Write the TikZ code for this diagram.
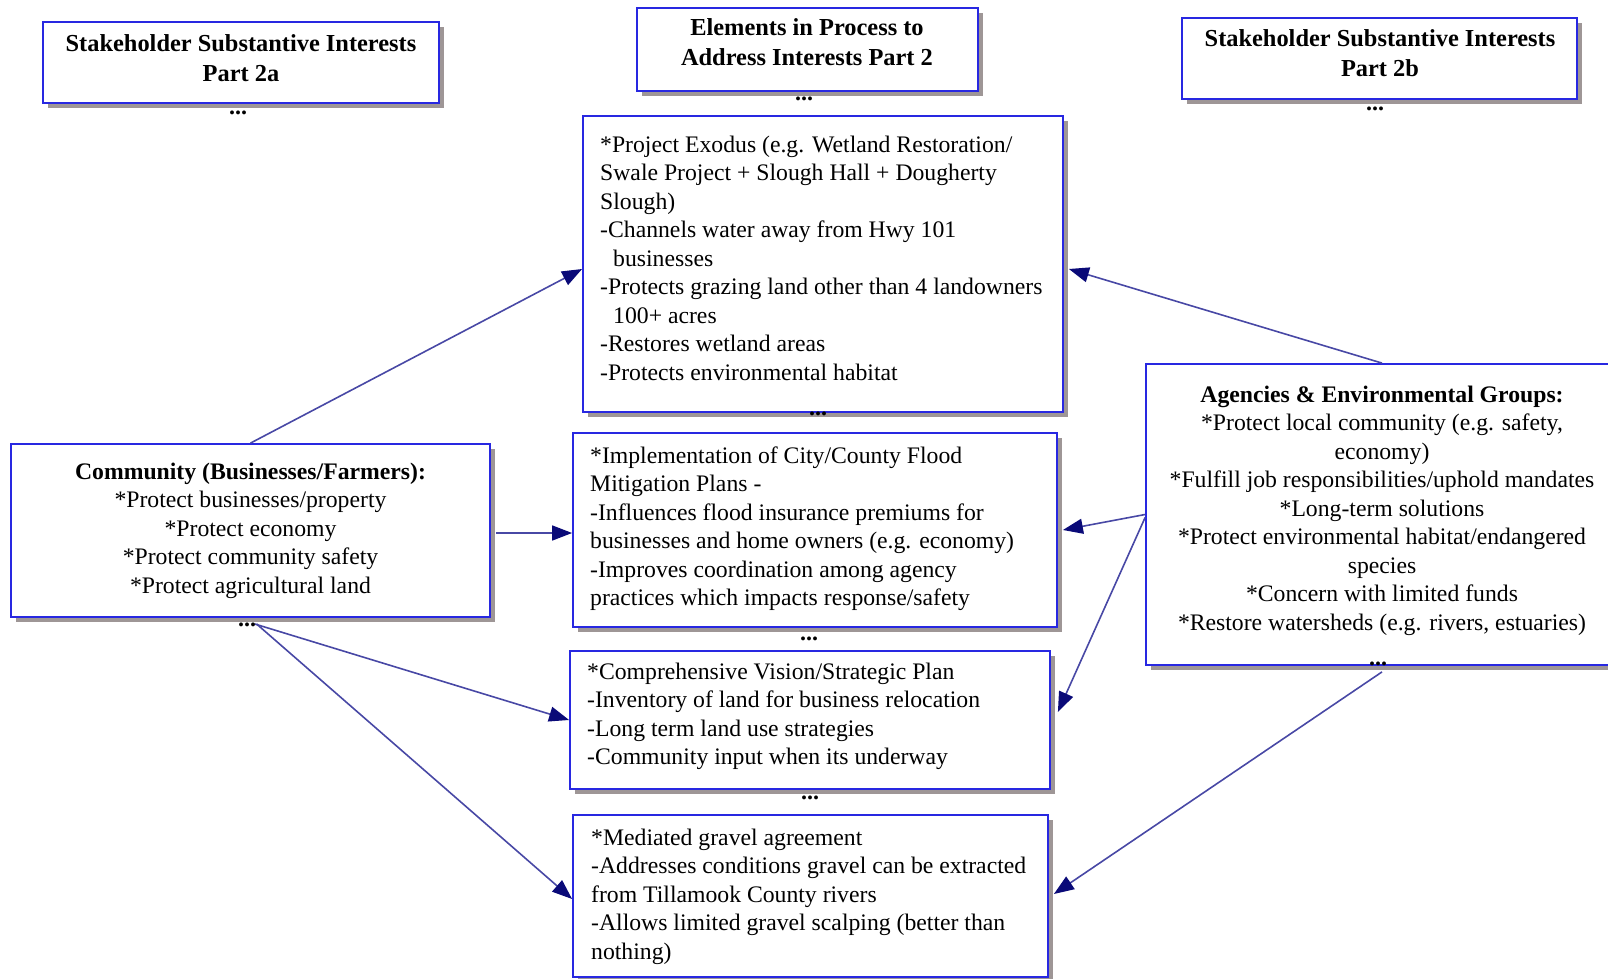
\documentclass[tikz,border=0pt]{standalone}
\usepackage{fontspec}
\setmainfont{Liberation Serif}
\usetikzlibrary{arrows.meta,shadows}

\definecolor{boxblue}{RGB}{40,40,225}
\definecolor{shadowgrey}{RGB}{158,150,150}
\definecolor{linkblue}{RGB}{72,72,165}
\definecolor{tipnavy}{RGB}{10,10,120}

% multi-line text blocks whose baseline is the first line's baseline
\newcommand{\leftlines}[1]{\begin{tabular}[t]{@{}l@{}}#1\end{tabular}}
\newcommand{\midlines}[1]{\begin{tabular}[t]{@{}c@{}}#1\end{tabular}}
\newcommand{\ind}{\hspace*{13pt}}

\begin{document}
\begin{tikzpicture}[x=1pt,y=-1pt,
  every node/.style={font=\fontsize{23.7pt}{28.5pt}\selectfont},
  panel/.style={draw=boxblue, line width=1.8pt, fill=white, inner sep=0pt,
    drop shadow={shadow xshift=5pt, shadow yshift=-5pt, fill=shadowgrey, opacity=1}},
  titletext/.style={font=\fontsize{24.4pt}{29.5pt}\selectfont\bfseries, anchor=base, inner sep=0pt},
  bodytext/.style={anchor=base west, inner sep=0pt},
  centretext/.style={anchor=base, inner sep=0pt},
  more/.style={font=\fontsize{24pt}{28.5pt}\selectfont\bfseries, anchor=base, inner sep=0pt},
  link/.style={draw=linkblue, line width=1.6pt,
    -{Triangle[length=20pt,width=15pt,color=tipnavy]}}
]
\useasboundingbox (0,0) rectangle (1608,979);
\clip (0,0) rectangle (1608,979);

% ---------- column headings ----------
\node[panel, minimum width=396pt, minimum height=81pt] (head2a) at (241,62.5) {};
\node[titletext] (head2a-t) at (241,52) {\midlines{Stakeholder Substantive Interests\\Part 2a}};
\node[more] (head2a-m) at (238,115) {...};

\node[panel, minimum width=341pt, minimum height=83pt] (headel) at (807.5,49.5) {};
\node[titletext] (headel-t) at (807,36) {\midlines{Elements in Process to\\Address Interests Part 2}};
\node[more] (headel-m) at (804,101) {...};

\node[panel, minimum width=395pt, minimum height=81pt] (head2b) at (1379.5,58.5) {};
\node[titletext] (head2b-t) at (1380,47) {\midlines{Stakeholder Substantive Interests\\Part 2b}};
\node[more] (head2b-m) at (1375,111) {...};

% ---------- stakeholders ----------
\node[panel, minimum width=479pt, minimum height=173pt] (comm) at (250.5,530.5) {};
\node[centretext] (comm-t) at (250.5,479) {\midlines{\textbf{Community (Businesses/Farmers):}\\
  {}*Protect businesses/property\\
  {}*Protect economy\\
  {}*Protect community safety\\
  {}*Protect agricultural land}};

\node[panel, minimum width=472pt, minimum height=301pt] (agen) at (1382,514.5) {};
\node[centretext] (agen-t) at (1382,402) {\midlines{\textbf{Agencies \& Environmental Groups:}\\
  {}*Protect local community (e.g. safety,\\
  economy)\\
  {}*Fulfill job responsibilities/uphold mandates\\
  {}*Long-term solutions\\
  {}*Protect environmental habitat/endangered\\
  species\\
  {}*Concern with limited funds\\
  {}*Restore watersheds (e.g. rivers, estuaries)}};

% ---------- process elements ----------
\node[panel, minimum width=480pt, minimum height=296pt] (exodus) at (823,264) {};
\node[bodytext] (exodus-t) at (600,152) {\leftlines{*Project Exodus (e.g. Wetland Restoration/\\
  Swale Project + Slough Hall + Dougherty\\
  Slough)\\
  -Channels water away from Hwy 101\\
  \ind businesses\\
  -Protects grazing land other than 4 landowners\\
  \ind 100+ acres\\
  -Restores wetland areas\\
  -Protects environmental habitat}};

\node[panel, minimum width=484pt, minimum height=194pt] (flood) at (815,530) {};
\node[bodytext] (flood-t) at (590,463) {\leftlines{*Implementation of City/County Flood\\
  Mitigation Plans -\\
  -Influences flood insurance premiums for\\
  businesses and home owners (e.g. economy)\\
  -Improves coordination among agency\\
  practices which impacts response/safety}};

\node[panel, minimum width=480pt, minimum height=138pt] (vision) at (810,720) {};
\node[bodytext] (vision-t) at (587,679) {\leftlines{*Comprehensive Vision/Strategic Plan\\
  -Inventory of land for business relocation\\
  -Long term land use strategies\\
  -Community input when its underway}};

\node[panel, minimum width=475pt, minimum height=162pt] (gravel) at (810.5,896) {};
\node[bodytext] (gravel-t) at (591,845) {\leftlines{*Mediated gravel agreement\\
  -Addresses conditions gravel can be extracted\\
  from Tillamook County rivers\\
  -Allows limited gravel scalping (better than\\
  nothing)}};

% ---------- connectors ----------
\draw[link] (comm.north) -- ([yshift=-5pt]exodus.west);
\draw[link] ([xshift=5pt,yshift=-2.5pt]comm.east) -- ([yshift=-3pt]flood.west);
\draw[link] ([xshift=4pt,yshift=-6pt]comm.south) -- (vision.west);
\draw[link] ([xshift=6pt,yshift=-6pt]comm.south) -- ([yshift=-3pt]gravel.west);

\draw[link] (agen.north) -- ([xshift=5pt,yshift=-5pt]exodus.east);
\draw[link] (agen.west) -- ([xshift=5pt]flood.east);
\draw[link] ([yshift=-3pt]agen.west) -- ([xshift=7pt,yshift=8pt]vision.east);
\draw[link] ([yshift=-6pt]agen.south) -- ([xshift=5pt,yshift=2pt]gravel.east);

% ---------- continuation marks ----------
\node[more] (exodus-m) at (818,415) {...};
\node[more] (comm-m) at (247,626) {...};
\node[more] (agen-m) at (1378,665) {...};
\node[more] (flood-m) at (809,640) {...};
\node[more] (vision-m) at (810,799) {...};
\end{tikzpicture}
\end{document}
